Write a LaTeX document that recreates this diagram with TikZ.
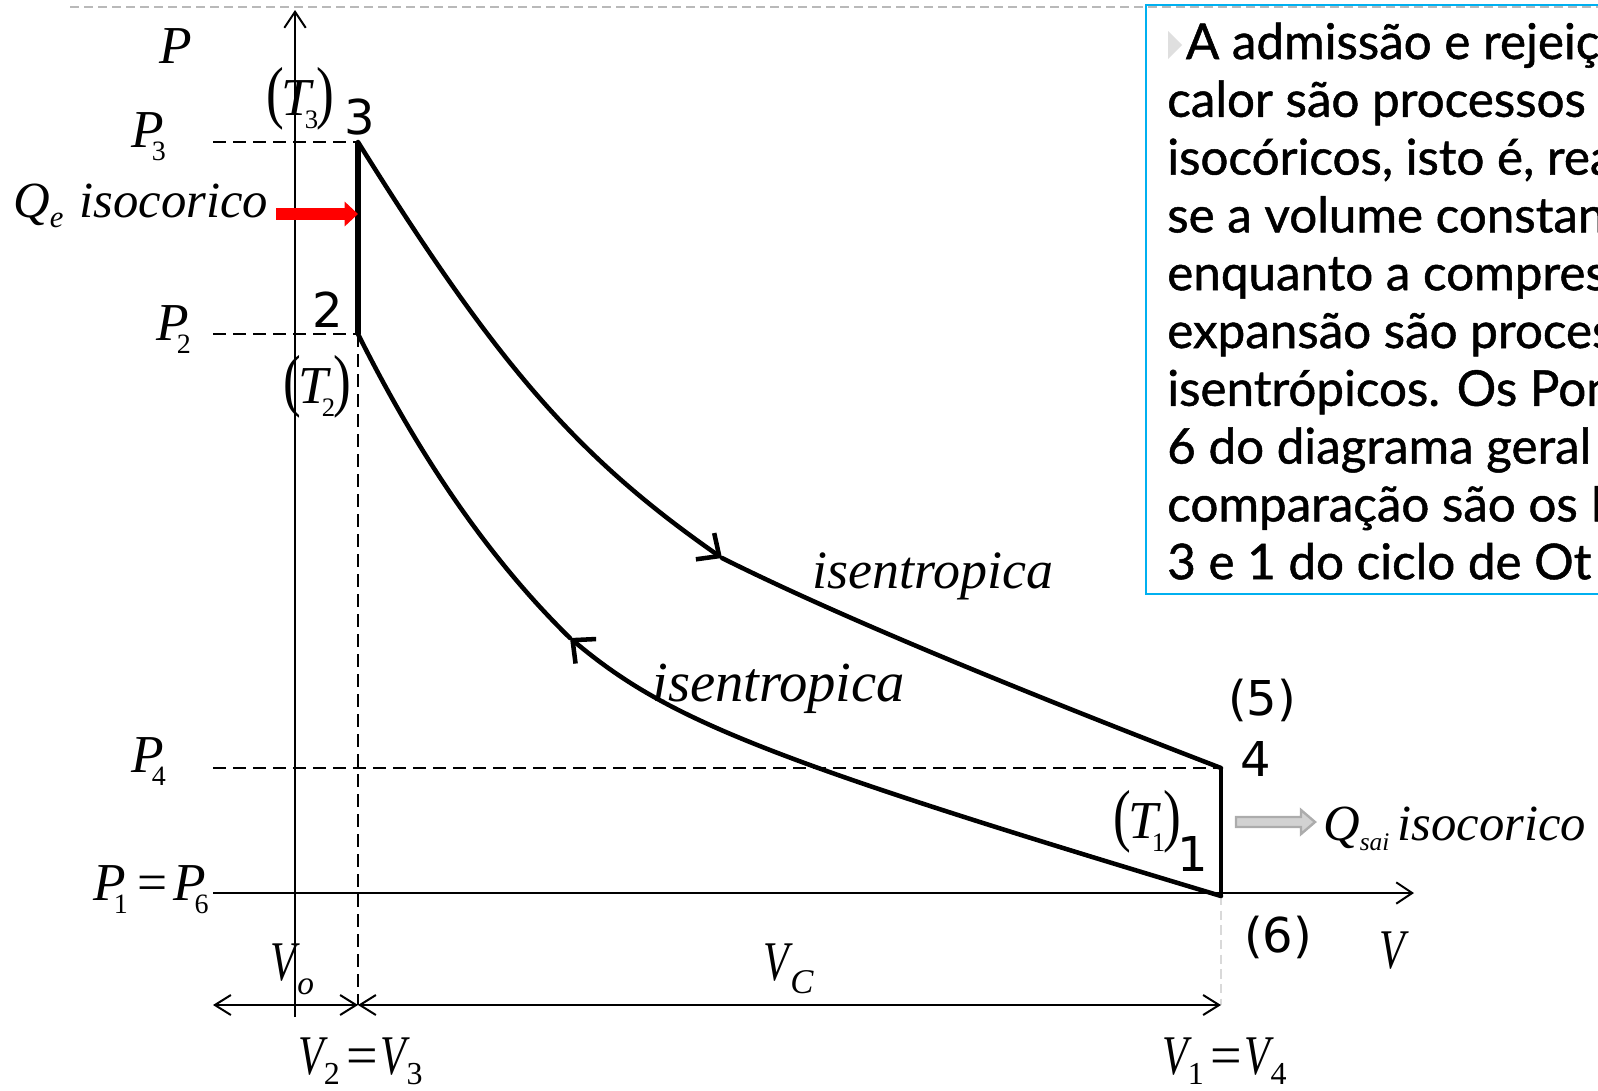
\documentclass[tikz,border=0pt]{standalone}
\usepackage{fontspec}
\setmainfont{Liberation Serif}
\newfontfamily\boxfont[FakeBold=1]{Lato}
\newfontfamily\digfont{DejaVu Sans}
\usetikzlibrary{arrows.meta}
\definecolor{boxblue}{HTML}{00B0F0}
\definecolor{qred}{HTML}{FF0000}
\newcommand\lsub[3]{\raisebox{#2}{\fontsize{#1}{#1}\selectfont\upshape #3}}
\newcommand\isub[3]{\raisebox{#2}{\fontsize{#1}{#1}\selectfont\itshape #3}}
\newcommand\Vn{\scalebox{0.75}[1]{\textit{V}}}
\newcommand\Pn[1]{\textit{P}\kern-9pt\lsub{21}{-10pt}{#1}}
\newcommand\Vs[1]{\Vn\kern-3pt\lsub{24}{-8pt}{#1}}
\newcommand\Tlab[1]{\scalebox{1}[1.3]{(}\kern-2pt\textit{T}\kern-7pt\lsub{20}{-10pt}{#1}\kern-1pt\scalebox{1}[1.3]{)}}
\begin{document}
\begin{tikzpicture}[x=0.75pt,y=-0.75pt,
  axisline/.style={line width=1.5pt,-{Straight Barb[length=12pt,width=16pt]}},
  guide/.style={line width=1.3pt,dash pattern=on 10pt off 5pt},
  cycleline/.style={line width=3.4pt,line cap=round},
  cyclearrow/.style={cycleline,-{Straight Barb[length=13pt,width=24pt]}},
  dimline/.style={line width=1.5pt,{Straight Barb[length=12pt,width=15pt]}-{Straight Barb[length=12pt,width=15pt]}},
  mlab/.style={inner sep=0pt,font=\fontsize{40}{40}\selectfont},
  vlab/.style={inner sep=0pt,font=\fontsize{42}{42}\selectfont},
  isolab/.style={inner sep=0pt,font=\fontsize{38}{38}\selectfont\itshape},
  digit/.style={inner sep=0pt,font=\digfont\fontsize{36}{36}\selectfont}
]
\useasboundingbox (0,0) rectangle (1598,1090);
\clip (0,0) rectangle (1598,1090);

% key points
\coordinate (p3) at (358,142);
\coordinate (p2) at (358,334);
\coordinate (p4) at (1221,768);
\coordinate (p1) at (1221,896);
\coordinate (ma) at (722,558);
\coordinate (mb) at (570,638);
\coordinate (pbot) at (295,1017);
\coordinate (ptop) at (295,10);
\coordinate (vstart) at (213,893);
\coordinate (vend) at (1414,893);
\coordinate (g3) at (213,142);
\coordinate (g2) at (213,334);
\coordinate (g4) at (213,768);
\coordinate (dL) at (213,1005);
\coordinate (d2) at (358,1005);
\coordinate (d1) at (1221,1005);
\coordinate (tl) at (70,7);
\coordinate (tr) at (1598,7);

% top gray dashed line
\draw[gray!55,line width=1.5pt,dash pattern=on 7pt off 3.5pt] (tl) -- (tr);

% axes
\draw[axisline] (pbot) -- (ptop);
\draw[axisline] (vstart) -- (vend);

% guides
\draw[guide] (g3) -- (p3);
\draw[guide] (g2) -- (p2);
\draw[guide] (g4) -- (p4);
\draw[guide] (p2) -- (d2);
\draw[gray!30,line width=1.3pt,dash pattern=on 7pt off 4pt] (p1) -- (d1);

% dimension arrows
\draw[dimline] (dL) -- (d2);
\draw[dimline] (d2) -- (d1);

% cycle
\draw[line width=3.8pt] (p3) -- (p2);
\draw[line width=3pt] (p4) -- (p1);
\draw[cyclearrow] (p3) .. controls (497.6,365.9) and (577.7,457.4) .. (ma);
\draw[cycleline] (ma) .. controls (826,610) and (990.5,679.3) .. (p4);
\draw[cyclearrow] (p1) .. controls (765.2,759.1) and (667.3,719.6) .. (mb);
\draw[cycleline] (mb) .. controls (493.7,563.3) and (423,464) .. (p2);

% heat arrows
\coordinate (qs) at (276,214);
\coordinate (qe) at (358,214);
\draw[qred,line width=9pt,-{Triangle[length=10pt,width=18pt]}] (qs) -- (qe);
\draw[gray!65,fill=gray!35,line width=1.8pt,line join=miter] (1236,817) -- (1301,817) -- (1301,810) -- (1315,822) -- (1301,834) -- (1301,827) -- (1236,827) -- cycle;

% axis labels
\node[mlab,anchor=base] (lP) at (176,63) {\textit{P}};
\node[vlab,anchor=base west] (lV) at (1379,968) {\Vn};

% pressure labels
\node[mlab,anchor=base west] (lP3) at (131,147) {\Pn{3}};
\node[mlab,anchor=base west] (lP2) at (156,340) {\Pn{2}};
\node[mlab,anchor=base west] (lP4) at (131,772) {\Pn{4}};
\node[mlab,anchor=base west] (lP1) at (93,900) {\Pn{1}\kern7pt=\kern5pt\Pn{6}};

% volume labels
\node[vlab,anchor=base west] (lVo) at (270,980) {\Vn\kern-2pt\isub{25}{-11pt}{o}};
\node[vlab,anchor=base west] (lVC) at (763,980) {\Vn\kern-2pt\isub{26}{-10pt}{C}};
\node[vlab,anchor=base west] (lV23) at (298,1074) {\Vs{2}\kern5pt=\kern2pt\Vs{3}};
\node[vlab,anchor=base west] (lV14) at (1162,1074) {\Vs{1}\kern5pt=\kern2pt\Vs{4}};

% temperature labels
\node[mlab,anchor=base west] (lT3) at (266,115) {\Tlab{3}};
\node[mlab,anchor=base west] (lT2) at (283,403) {\Tlab{2}};
\node[mlab,anchor=base west] (lT1) at (1113,838) {\Tlab{1}};

% state numbers
\node[digit,anchor=base] (n3) at (360,134) {3};
\node[digit,anchor=base] (n2) at (328,327) {2};
\node[digit,anchor=base] (n4) at (1256,776) {4};
\node[digit,anchor=base] (n1) at (1193,871) {1};
\node[digit,anchor=base] (n5) at (1262,715) {(5)};
\node[digit,anchor=base] (n6) at (1278,952) {(6)};

% process labels
\node[isolab,anchor=base west] (lQe) at (13,217) {Q\isub{23}{-8pt}{e}\kern12pt isocorico};
\node[isolab,anchor=base west] (lQs) at (1323,840) {Q\isub{19}{-8pt}{sai}\kern6pt isocorico};
\node[inner sep=0pt,font=\fontsize{40.5}{40.5}\selectfont\itshape,anchor=base west] (lis1) at (812,588) {isentropica};
\node[inner sep=0pt,font=\fontsize{42.5}{42.5}\selectfont\itshape,anchor=base west] (lis2) at (652,701) {isentropica};

% text box
\node[draw=boxblue,line width=1.5pt,anchor=north west,minimum width=360pt,minimum height=442pt,inner sep=0pt] (box) at (1145,4) {};
\fill[gray!25] (1168,31) -- (1182,45) -- (1168,59) -- cycle;
\node[inner sep=0pt,anchor=base west,font=\boxfont\fontsize{37}{43.35}\selectfont] (boxtext) at (1167,59)
 {\vtop{\baselineskip=43.35pt\lineskiplimit=-100pt
  \hbox{\kern14pt A admissão e rejeiç}
  \hbox{calor são processos}
  \hbox{isocóricos, isto é, rea}
  \hbox{se a volume constan}
  \hbox{enquanto a compres}
  \hbox{expansão são proces}
  \hbox{isentrópicos. Os Pon}
  \hbox{6 do diagrama geral}
  \hbox{comparação são os P}
  \hbox{3 e 1 do ciclo de Ot}}};
\end{tikzpicture}
\end{document}
